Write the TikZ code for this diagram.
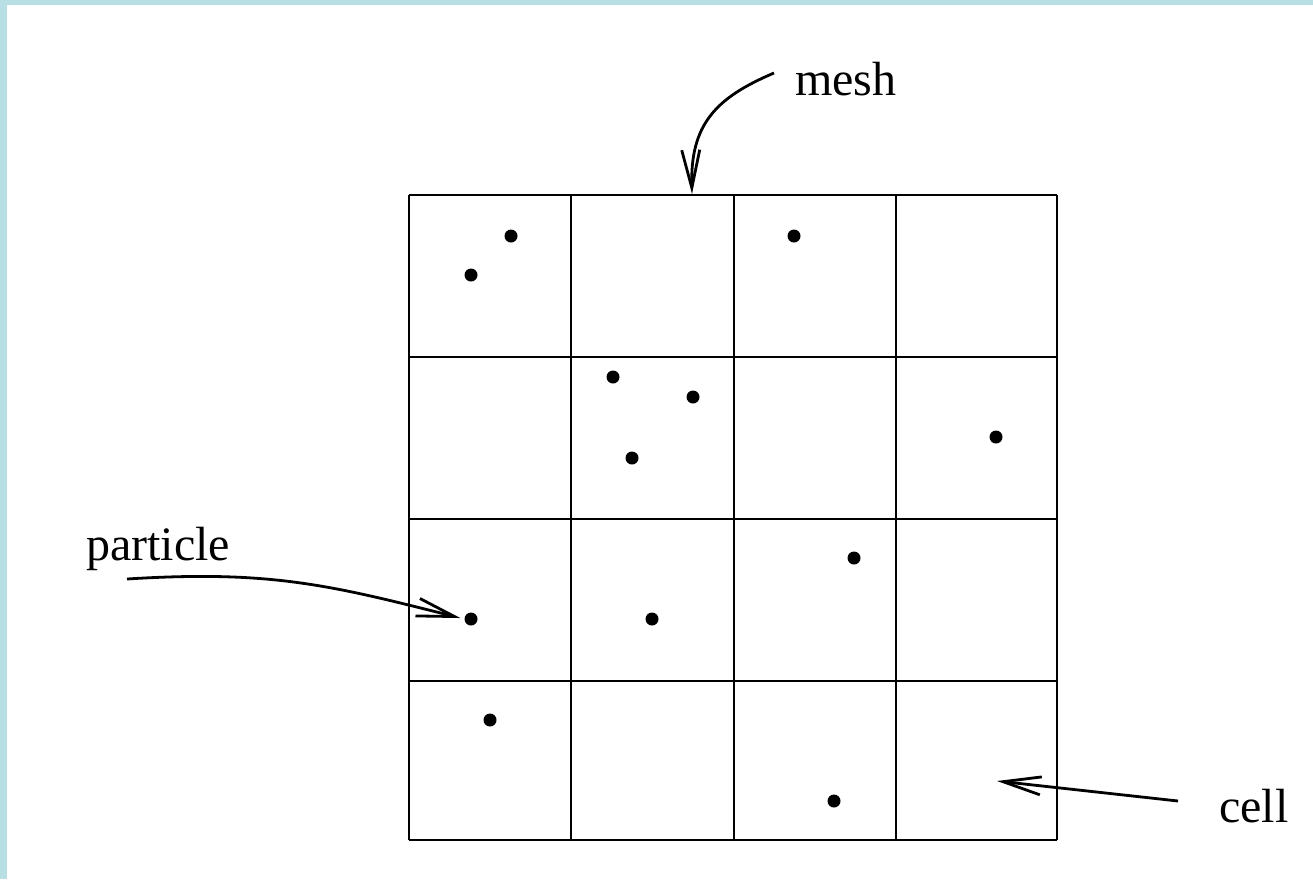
\documentclass[tikz,border=0pt]{standalone}
\usepackage{fontspec}
\setmainfont{Liberation Serif}
\usetikzlibrary{arrows.meta}
\definecolor{framecyan}{HTML}{B8DFE3}
\begin{document}
\begin{tikzpicture}[x=1pt,y=-1pt,
  gridline/.style={line width=2.8pt},
  dot/.style={circle,fill=black,inner sep=0pt,minimum size=13pt},
  label/.style={inner sep=0pt,anchor=base west,font=\fontsize{48}{58}\selectfont},
  pointer/.style={line width=2.8pt,-{Straight Barb[length=38pt,width=18pt,line width=2.8pt]}}]
  % page area and the tinted strips along the top and left edges
  \useasboundingbox (0,0) rectangle (1313,879);
  \fill[white] (0,0) rectangle (1313,879);
  \fill[framecyan] (0,0) rectangle (1313,5);
  \fill[framecyan] (0,0) rectangle (7,879);

  % 4 x 4 mesh
  \foreach \x in {409,571,734,896,1057}
    \draw[gridline] (\x,195) -- (\x,840);
  \foreach \y in {195,357,519,681,840}
    \draw[gridline] (409,\y) -- (1057,\y);

  % particles
  \node[dot] (p1) at (511,236) {};
  \node[dot] (p2) at (471,275) {};
  \node[dot] (p3) at (794,236) {};
  \node[dot] (p4) at (613,377) {};
  \node[dot] (p5) at (693,397) {};
  \node[dot] (p6) at (632,458) {};
  \node[dot] (p7) at (996,437) {};
  \node[dot] (p8) at (854,558) {};
  \node[dot] (p9) at (471,619) {};
  \node[dot] (p10) at (652,619) {};
  \node[dot] (p11) at (490,720) {};
  \node[dot] (p12) at (834,801) {};

  % labels
  \node[label] (mesh) at (795,95) {mesh};
  \node[label] (particle) at (86,560) {particle};
  \node[label] (cell) at (1219,822) {cell};

  % pointer ends
  \coordinate (meshtail) at (774,73);
  \coordinate (meshhead) at (692,194);
  \coordinate (parttail) at (127,579);
  \coordinate (celltail) at (1178,801);
  \coordinate (cellhead) at (997,781);

  % pointers
  \draw[pointer] (meshtail) .. controls (715,98) and (690,125) .. (meshhead);
  \draw[pointer,shorten >=4pt] (parttail) .. controls (270,570) and (330,585) .. (p9.west);
  \draw[pointer] (celltail) -- (cellhead);
\end{tikzpicture}
\end{document}
